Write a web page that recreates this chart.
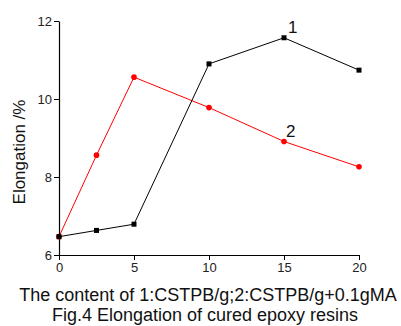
<!DOCTYPE html>
<html>
<head>
<meta charset="utf-8">
<script src="https://cdn.jsdelivr.net/npm/d3@7"></script>
<style>
  body { margin: 0; background: #fff; }
  text { font-family: "Liberation Sans", Arial, sans-serif; }
</style>
</head>
<body>
<div id="chart"></div>
<script>
//data
const content = [0, 2.5, 5, 10, 15, 20];
const elong1 = [6.47, 6.63, 6.79, 10.9, 11.57, 10.74];
const elong2 = [6.47, 8.56, 10.56, 9.78, 8.91, 8.26];
const xTicks = [0, 5, 10, 15, 20];
const yTicks = [6, 8, 10, 12];

const width = 401,
  height = 326;
const margin = { top: 21, right: 42, bottom: 71, left: 59 };

const svg = d3
  .select("#chart")
  .append("svg")
  .attr("width", width)
  .attr("height", height);

//scales
const x = d3
  .scaleLinear()
  .domain([0, 20])
  .range([margin.left, width - margin.right]);
const y = d3
  .scaleLinear()
  .domain([6, 12])
  .range([height - margin.bottom, margin.top]);

//axes
const xAxis = svg
  .append("g")
  .attr("transform", "translate(0," + (height - margin.bottom) + ")")
  .call(
    d3
      .axisBottom(x)
      .tickValues(xTicks)
      .tickFormat(d3.format("d"))
      .tickSize(5)
      .tickSizeOuter(0)
  );
const yAxis = svg
  .append("g")
  .attr("transform", "translate(" + margin.left + ",0)")
  .call(
    d3
      .axisLeft(y)
      .tickValues(yTicks)
      .tickFormat(d3.format("d"))
      .tickSize(5)
      .tickSizeOuter(0)
  );

[xAxis, yAxis].forEach((a) => {
  a.select(".domain").attr("stroke", "#000").attr("stroke-width", 1.2);
  a.selectAll(".tick line").attr("stroke", "#000");
  a.selectAll(".tick text")
    .attr("fill", "#222")
    .style("font-size", "13px")
    .style("font-family", "Liberation Sans, Arial, sans-serif");
});
xAxis.selectAll(".tick text").attr("y", 8);
yAxis.selectAll(".tick text").attr("x", -7);

const line = d3
  .line()
  .x((d) => x(d[0]))
  .y((d) => y(d[1]));

const s1 = content.map((c, i) => [c, elong1[i]]);
const s2 = content.map((c, i) => [c, elong2[i]]);

//series 2 (red, circles)
svg
  .append("path")
  .datum(s2)
  .attr("d", line)
  .attr("fill", "none")
  .attr("stroke", "#ff0000")
  .attr("stroke-width", 1);
svg
  .selectAll(".pt2")
  .data(s2)
  .enter()
  .append("circle")
  .attr("cx", (d) => x(d[0]))
  .attr("cy", (d) => y(d[1]))
  .attr("r", 2.8)
  .attr("fill", "#ff0000");

//series 1 (black, squares)
svg
  .append("path")
  .datum(s1)
  .attr("d", line)
  .attr("fill", "none")
  .attr("stroke", "#000")
  .attr("stroke-width", 1);
svg
  .selectAll(".pt1")
  .data(s1)
  .enter()
  .append("rect")
  .attr("x", (d) => x(d[0]) - 2.5)
  .attr("y", (d) => y(d[1]) - 2.5)
  .attr("width", 5)
  .attr("height", 5)
  .attr("fill", "#000");

//curve labels
svg
  .append("text")
  .attr("x", x(15) + 4)
  .attr("y", y(11.57) - 5)
  .text("1")
  .style("font-size", "17px")
  .attr("fill", "#111");
svg
  .append("text")
  .attr("x", x(15) + 2)
  .attr("y", y(8.91) - 4.5)
  .text("2")
  .style("font-size", "17px")
  .attr("fill", "#111");

//axis titles
svg
  .append("text")
  .attr("transform", "translate(25,152) rotate(-90)")
  .attr("text-anchor", "middle")
  .text("Elongation /%")
  .style("font-size", "17px")
  .attr("fill", "#111");
svg
  .append("text")
  .attr("x", 208)
  .attr("y", 301)
  .attr("text-anchor", "middle")
  .text("The content of 1:CSTPB/g;2:CSTPB/g+0.1gMA")
  .style("font-size", "18px")
  .attr("fill", "#111");
svg
  .append("text")
  .attr("x", 205)
  .attr("y", 321)
  .attr("text-anchor", "middle")
  .text("Fig.4 Elongation of cured epoxy resins")
  .style("font-size", "18px")
  .attr("fill", "#111");
</script>
</body>
</html>
